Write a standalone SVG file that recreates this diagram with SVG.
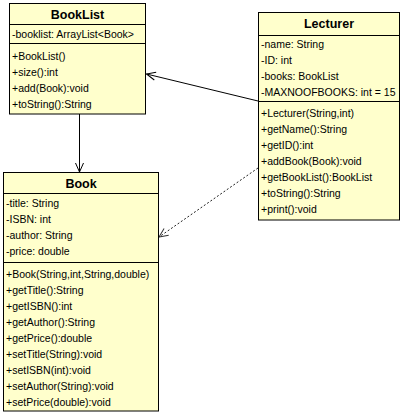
<svg xmlns="http://www.w3.org/2000/svg" width="405" height="415" viewBox="0 0 405 415">
<style>
.box{fill:#FFFFCC;stroke:#000;stroke-width:1}
.sep{stroke:#000;stroke-width:1}
.t{font-family:"Liberation Sans",Arial,sans-serif;font-size:10.5px;fill:#000}
.h{font-family:"Liberation Sans",Arial,sans-serif;font-size:12.5px;font-weight:bold;fill:#000;text-anchor:middle}
.c{fill:none;stroke:#000;stroke-width:1}
.d{fill:none;stroke:#222;stroke-width:1;stroke-dasharray:2,2}
</style>
<defs>
<marker id="open" markerWidth="12" markerHeight="10" refX="10" refY="5" orient="auto" markerUnits="userSpaceOnUse">
<path d="M1,1 L10,5 L1,9" fill="none" stroke="#000" stroke-width="1"/>
</marker>
<marker id="openg" markerWidth="12" markerHeight="10" refX="10" refY="5" orient="auto" markerUnits="userSpaceOnUse">
<path d="M1,1 L10,5 L1,9" fill="none" stroke="#333" stroke-width="1"/>
</marker>
</defs>
<g id="connectors">
<line class="c" x1="258" y1="101" x2="146.5" y2="74" marker-end="url(#open)"/>
<line class="c" x1="79.5" y1="114" x2="79.5" y2="172" marker-end="url(#open)"/>
<line class="d" x1="258" y1="168" x2="159" y2="237" marker-end="url(#openg)"/>
</g>
<g id="BookList">
<rect class="box" x="9.5" y="3.5" width="136" height="110.5"/>
<line class="sep" x1="9.5" y1="24.5" x2="145.5" y2="24.5"/>
<line class="sep" x1="9.5" y1="43.5" x2="145.5" y2="43.5"/>
<text class="h" x="77.5" y="18.5">BookList</text>
<text class="t" x="12" y="38">-booklist: ArrayList&lt;Book&gt;</text>
<text class="t" x="12" y="60">+BookList()</text>
<text class="t" x="12" y="76">+size():int</text>
<text class="t" x="12" y="92">+add(Book):void</text>
<text class="t" x="12" y="108">+toString():String</text>
</g>
<g id="Lecturer">
<rect class="box" x="258.5" y="12.5" width="141" height="207.5"/>
<line class="sep" x1="258.5" y1="35.5" x2="399.5" y2="35.5"/>
<line class="sep" x1="258.5" y1="101.5" x2="399.5" y2="101.5"/>
<text class="h" x="329" y="28">Lecturer</text>
<text class="t" x="261" y="48">-name: String</text>
<text class="t" x="261" y="64">-ID: int</text>
<text class="t" x="261" y="80">-books: BookList</text>
<text class="t" x="261" y="96">-MAXNOOFBOOKS: int = 15</text>
<text class="t" x="261" y="117">+Lecturer(String,int)</text>
<text class="t" x="261" y="133">+getName():String</text>
<text class="t" x="261" y="149">+getID():int</text>
<text class="t" x="261" y="165">+addBook(Book):void</text>
<text class="t" x="261" y="181">+getBookList():BookList</text>
<text class="t" x="261" y="197">+toString():String</text>
<text class="t" x="261" y="213">+print():void</text>
</g>
<g id="Book">
<rect class="box" x="3.5" y="172.5" width="155" height="238.5"/>
<line class="sep" x1="3.5" y1="193.5" x2="158.5" y2="193.5"/>
<line class="sep" x1="3.5" y1="262.5" x2="158.5" y2="262.5"/>
<text class="h" x="81" y="187.5">Book</text>
<text class="t" x="6" y="207">-title: String</text>
<text class="t" x="6" y="223">-ISBN: int</text>
<text class="t" x="6" y="239">-author: String</text>
<text class="t" x="6" y="255">-price: double</text>
<text class="t" x="6" y="278">+Book(String,int,String,double)</text>
<text class="t" x="6" y="294">+getTitle():String</text>
<text class="t" x="6" y="310">+getISBN():int</text>
<text class="t" x="6" y="326">+getAuthor():String</text>
<text class="t" x="6" y="342">+getPrice():double</text>
<text class="t" x="6" y="358">+setTitle(String):void</text>
<text class="t" x="6" y="374">+setISBN(int):void</text>
<text class="t" x="6" y="390">+setAuthor(String):void</text>
<text class="t" x="6" y="406">+setPrice(double):void</text>
</g>
</svg>
